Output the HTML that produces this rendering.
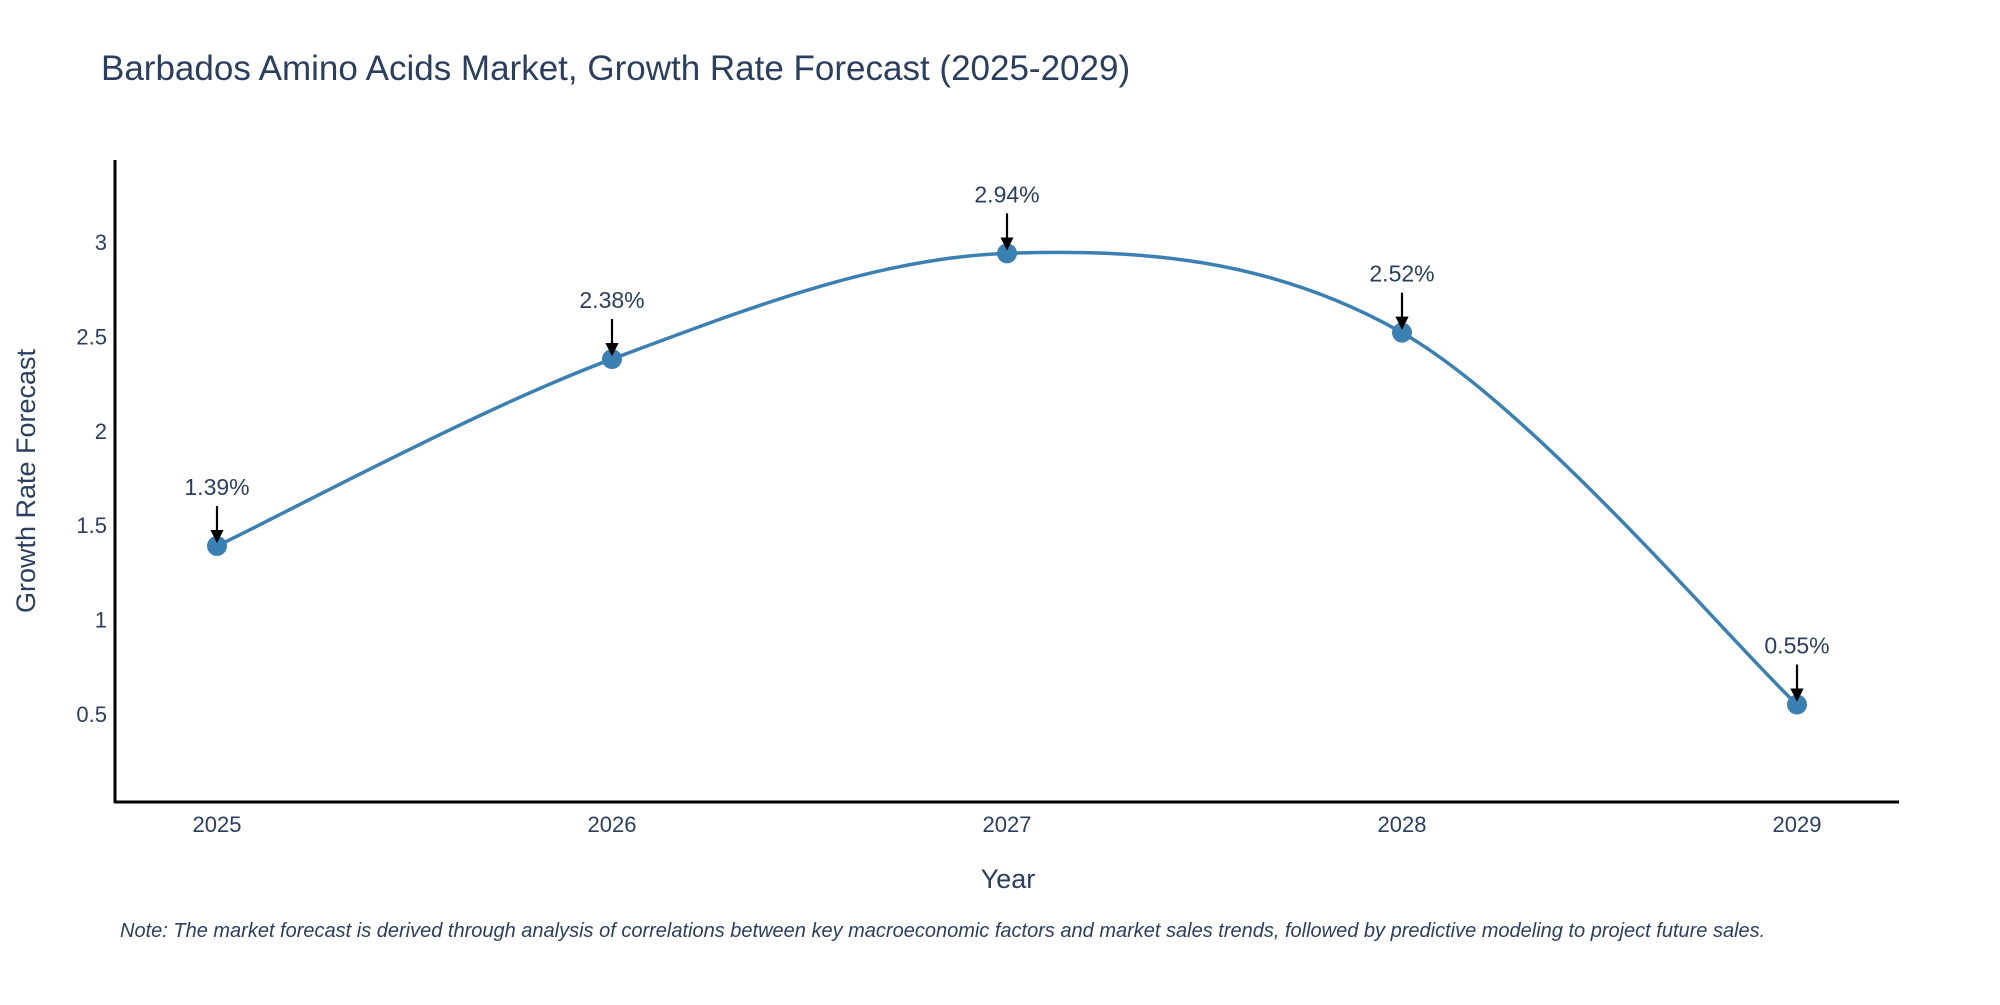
<!DOCTYPE html>
<html><head><meta charset="utf-8"><style>
body{margin:0;background:#fff}
svg text{font-family:"Liberation Sans",sans-serif;fill:#2a3f5f}
</style></head><body>
<svg width="2000" height="1000" xmlns="http://www.w3.org/2000/svg">
<defs><marker id="ah" markerWidth="6" markerHeight="6" refX="5" refY="3" orient="auto" markerUnits="strokeWidth"><path d="M0,0 L6,3 L0,6 z" fill="#000"/></marker></defs>
<text x="101" y="80" font-size="35">Barbados Amino Acids Market, Growth Rate Forecast (2025-2029)</text>
<g id="yticks"></g><g id="xticks"></g>
<path id="line" fill="none" stroke="#3b80b3" stroke-width="3.5"/>
<g id="pts"></g><g id="ann"></g>
<line x1="115" y1="160" x2="115" y2="803" stroke="#000" stroke-width="3"/>
<line x1="114" y1="802" x2="1899" y2="802" stroke="#000" stroke-width="3"/>
<text x="1008" y="888" font-size="27" text-anchor="middle">Year</text>
<text transform="translate(35,481) rotate(-90)" font-size="27" text-anchor="middle">Growth Rate Forecast</text>
<text x="120" y="937" font-size="20" font-style="italic">Note: The market forecast is derived through analysis of correlations between key macroeconomic factors and market sales trends, followed by predictive modeling to project future sales.</text>
</svg>
<script>
const years=[2025,2026,2027,2028,2029];
const rates=[1.39,2.38,2.94,2.52,0.55];
const labels=["1.39%","2.38%","2.94%","2.52%","0.55%"];
const yTicks=[0.5,1,1.5,2,2.5,3];
const NS="http://www.w3.org/2000/svg";
function X(v){return 217+(v-2025)*(1797-217)/4;}
function Y(v){return 714-(v-0.5)*188.8;}
function mk(t,a,p){const e=document.createElementNS(NS,t);for(const k in a)e.setAttribute(k,a[k]);p.appendChild(e);return e;}
const yt=document.getElementById('yticks');
yTicks.forEach(v=>{const t=mk('text',{x:107,y:Y(v)+8,'font-size':22,'text-anchor':'end'},yt);t.textContent=String(v);

});
const xt=document.getElementById('xticks');
years.forEach(v=>{const t=mk('text',{x:X(v),y:832,'font-size':22,'text-anchor':'middle'},xt);t.textContent=String(v);

});
const P=years.map((y,i)=>[X(y),Y(rates[i])]);
let d='M'+P[0][0]+','+P[0][1];
for(let i=0;i<P.length-1;i++){const p0=P[i-1]||P[i],p1=P[i],p2=P[i+1],p3=P[i+2]||P[i+1];const k=1/6;
d+=' C'+(p1[0]+(p2[0]-p0[0])*k)+','+(p1[1]+(p2[1]-p0[1])*k)+' '+(p2[0]-(p3[0]-p1[0])*k)+','+(p2[1]-(p3[1]-p1[1])*k)+' '+p2[0]+','+p2[1];}
document.getElementById('line').setAttribute('d',d);
const pts=document.getElementById('pts'),ann=document.getElementById('ann');
P.forEach((p,i)=>{const c=mk('circle',{cx:p[0],cy:p[1],r:10,fill:'#3b80b3'},pts);


const l=mk('line',{x1:p[0],y1:p[1]-40,x2:p[0],y2:p[1]-5,stroke:'#000','stroke-width':2.2,'marker-end':'url(#ah)'},ann);


const t=mk('text',{x:p[0],y:p[1]-51,'font-size':23,'text-anchor':'middle'},ann);t.textContent=labels[i];

});
</script>
</body></html>
